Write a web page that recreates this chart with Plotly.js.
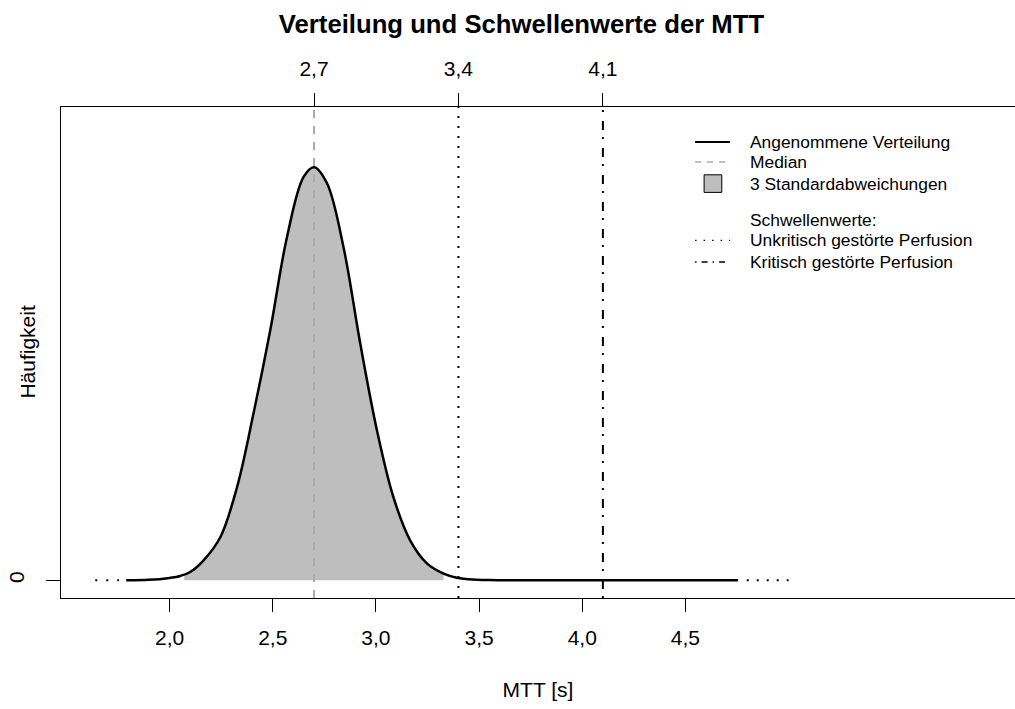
<!DOCTYPE html>
<html>
<head>
<meta charset="utf-8">
<script src="https://cdn.plot.ly/plotly-3.0.1.min.js"></script>
<style>html,body{margin:0;padding:0;background:#fff;}#chart{width:1015px;height:709px;}</style>
</head>
<body>
<div id="chart"></div>
<script>
// ---- data ----
const curveX = [1.79, 1.9, 2.0, 2.052, 2.1, 2.165, 2.246, 2.327, 2.407, 2.488, 2.569, 2.649, 2.7, 2.763, 2.843, 2.924, 3.005, 3.085, 3.166, 3.247, 3.328, 3.392, 3.45, 3.55, 3.7, 4.0, 4.4, 4.755];
const curveY = [0.0, 0.002, 0.011, 0.020, 0.038, 0.092, 0.198, 0.428, 0.768, 1.15, 1.578, 1.854, 1.90, 1.826, 1.532, 1.09, 0.69, 0.382, 0.184, 0.078, 0.031, 0.012, 0.005, 0.001, 0.0, 0.0, 0.0, 0.0];
const sdBounds = [2.071, 3.328];
const sdBoundY = [0.026, 0.031];
const medianValue = 2.7;
const thresholds = [3.4, 4.1];
const tailLeftX = [1.64, 1.755];
const tailRightX = [4.797, 5.0];
const bottomTicks = [2.0, 2.5, 3.0, 3.5, 4.0, 4.5];
const topTicks = [2.7, 3.4, 4.1];
const legendLabels = ['Angenommene Verteilung', 'Median', '3 Standardabweichungen', 'Schwellenwerte:', 'Unkritisch gestörte Perfusion', 'Kritisch gestörte Perfusion'];

// ---- layout geometry ----
const W = 1015, H = 709;
const mL = 60.7, mR = 0, mT = 106.7, mB = H - 597.7;
const xRange = [1.474, 6.097];
const yRange = [-0.0814, 2.177];
const FONT = 'Liberation Sans, Arial, Helvetica, sans-serif';
const plotW = W - mL - mR, plotH = H - mT - mB;
const px = v => (v - mL) / plotW;
const py = v => (H - mB - v) / plotH;

// shaded +-3 SD area
const shadeX = [sdBounds[0]], shadeY = [sdBoundY[0]];
curveX.forEach((x, i) => { if (x > sdBounds[0] && x < sdBounds[1]) { shadeX.push(x); shadeY.push(curveY[i]); } });
shadeX.push(sdBounds[1]); shadeY.push(sdBoundY[1]);

const traces = [
  {x: shadeX, y: shadeY, type: 'scatter', mode: 'lines', fill: 'tozeroy', fillcolor: '#BEBEBE',
   line: {width: 0, shape: 'spline', smoothing: 1}, hoverinfo: 'skip', showlegend: false},
  {x: [medianValue, medianValue], y: yRange, xaxis: 'x2', type: 'scatter', mode: 'lines',
   line: {color: '#ABABAB', width: 2, dash: '8px,8px'}, showlegend: false, hoverinfo: 'skip'},
  {x: curveX, y: curveY, type: 'scatter', mode: 'lines',
   line: {color: '#000', width: 2.5, shape: 'spline', smoothing: 1}, showlegend: false},
  {x: [thresholds[0], thresholds[0]], y: yRange, xaxis: 'x2', type: 'scatter', mode: 'lines',
   line: {color: '#000', width: 2, dash: '2px,8px'}, showlegend: false, hoverinfo: 'skip'},
  {x: [thresholds[1], thresholds[1]], y: yRange, xaxis: 'x2', type: 'scatter', mode: 'lines',
   line: {color: '#000', width: 2, dash: '2px,7px,9px,9px'}, showlegend: false, hoverinfo: 'skip'},
  {x: tailLeftX, y: [0, 0], type: 'scatter', mode: 'lines',
   line: {color: '#000', width: 2, dash: '2px,9px'}, showlegend: false, hoverinfo: 'skip'},
  {x: tailRightX, y: [0, 0], type: 'scatter', mode: 'lines',
   line: {color: '#000', width: 2, dash: '2px,8px'}, showlegend: false, hoverinfo: 'skip'}
];

// ---- manual legend (R style) ----
const rowsY = [141.7, 161.7, 183.3, 220, 240, 261.7];
const sx0 = 695, sx1 = 730, textX = 748.3;
const shapes = [
  {type: 'line', xref: 'paper', yref: 'paper', x0: px(sx0), x1: px(sx1), y0: py(rowsY[0]), y1: py(rowsY[0]), line: {color: '#000', width: 2}},
  {type: 'line', xref: 'paper', yref: 'paper', x0: px(sx0), x1: px(sx1), y0: py(rowsY[1]), y1: py(rowsY[1]), line: {color: '#ABABAB', width: 1.5, dash: '6px,6px'}},
  {type: 'rect', xref: 'paper', yref: 'paper', x0: px(704), x1: px(721.7), y0: py(rowsY[2] - 8.8), y1: py(rowsY[2] + 8.8), fillcolor: '#BEBEBE', line: {color: '#000', width: 1}},
  {type: 'line', xref: 'paper', yref: 'paper', x0: px(sx0), x1: px(sx1), y0: py(rowsY[4]), y1: py(rowsY[4]), line: {color: '#000', width: 1.3, dash: '1.5px,7px'}},
  {type: 'line', xref: 'paper', yref: 'paper', x0: px(sx0), x1: px(sx1), y0: py(rowsY[5]), y1: py(rowsY[5]), line: {color: '#000', width: 1.3, dash: '1.5px,5px,6px,5px'}}
];
const annotations = legendLabels.map((t, i) => ({
  text: t, xref: 'paper', yref: 'paper', x: px(textX), y: py(rowsY[i]),
  xanchor: 'left', yanchor: 'middle', showarrow: false, font: {family: FONT, size: 17.4, color: '#000'}
}));
// y-axis title (R places it close to the tick label column)
annotations.push({text: 'Häufigkeit', textangle: -90, xref: 'paper', yref: 'paper', x: px(27), y: py(351),
  xanchor: 'center', yanchor: 'middle', showarrow: false, font: {family: FONT, size: 21, color: '#000'}});

const layout = {
  width: W, height: H,
  margin: {l: mL, r: mR, t: mT, b: mB, pad: 0},
  paper_bgcolor: '#fff', plot_bgcolor: '#fff',
  separators: ',.',
  font: {family: FONT, color: '#000', size: 21},
  showlegend: false,
  title: {text: 'Verteilung und Schwellenwerte der MTT', font: {family: FONT, size: 25.7, weight: 'bold', color: '#000'},
          x: 521.5 / W, xref: 'container', xanchor: 'center', y: 1 - 24 / H, yref: 'container', yanchor: 'middle'},
  xaxis: {range: xRange, tickvals: bottomTicks, tickformat: '.1f', ticks: 'outside', ticklen: 13, tickwidth: 1, tickcolor: '#000',
          showline: true, linecolor: '#000', linewidth: 1, mirror: true, showgrid: false, zeroline: false,
          tickfont: {family: FONT, size: 21}, ticklabelstandoff: 8,
          title: {text: 'MTT [s]', font: {family: FONT, size: 21}, standoff: 34}},
  xaxis2: {range: xRange, overlaying: 'x', side: 'top', tickvals: topTicks, tickformat: '.1f', ticks: 'outside', ticklen: 13,
           tickwidth: 1, tickcolor: '#000', showline: false, showgrid: false, zeroline: false,
           tickfont: {family: FONT, size: 21}, ticklabelstandoff: 9},
  yaxis: {range: yRange, tickvals: [0], tickformat: 'd', tickangle: -90, ticks: 'outside', ticklen: 14, tickwidth: 1, tickcolor: '#000',
          showline: true, linecolor: '#000', linewidth: 1, showgrid: false, zeroline: false,
          tickfont: {family: FONT, size: 21}, ticklabelstandoff: 14},
  shapes: shapes,
  annotations: annotations
};

Plotly.newPlot('chart', traces, layout, {staticPlot: true, displayModeBar: false});
</script>
</body>
</html>
